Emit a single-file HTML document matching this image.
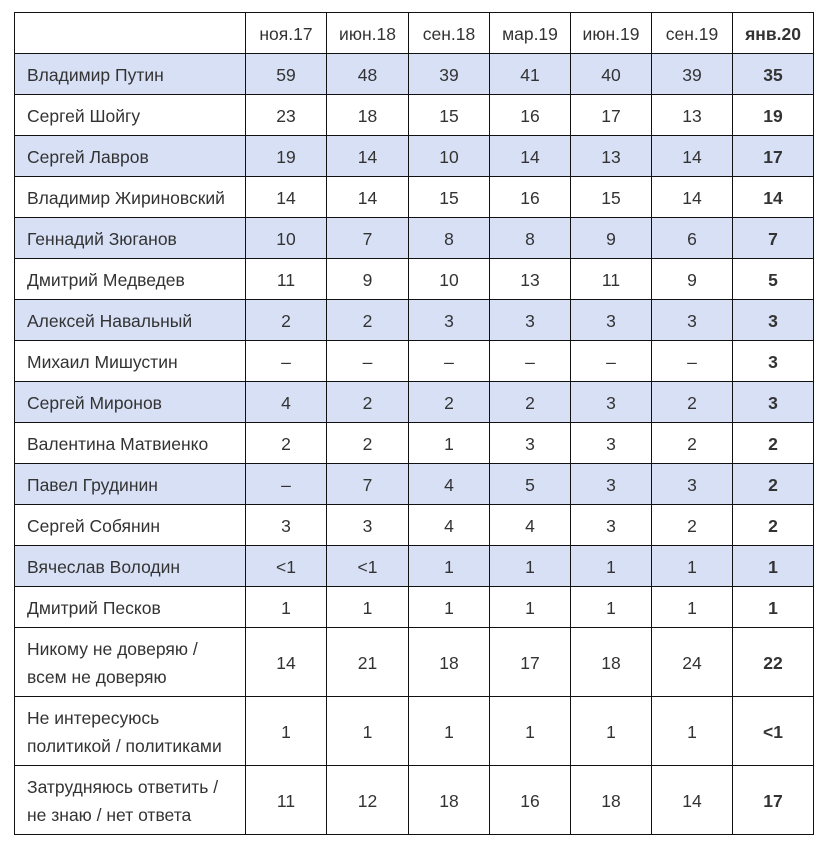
<!DOCTYPE html>
<html><head><meta charset="utf-8"><style>
body{margin:0;background:#fff;}
table{position:absolute;left:14px;top:12px;border-collapse:collapse;font-family:"Liberation Sans",sans-serif;font-size:17.5px;color:#333;table-layout:fixed;width:799px;}
td{border:1px solid #111;height:39px;padding:0;padding-top:1px;text-align:center;line-height:28px;}
td:first-child{text-align:left;padding-left:12px;}
tr.t td{height:67px;}
tr.b td{background:#d8e0f6;}
td:last-child{font-weight:bold;}
</style></head><body>
<table>
<colgroup><col style="width:231px"><col style="width:81px"><col style="width:82px"><col style="width:81px"><col style="width:81px"><col style="width:81px"><col style="width:81px"><col style="width:81px"></colgroup>
<tr class="h"><td></td><td>ноя.17</td><td>июн.18</td><td>сен.18</td><td>мар.19</td><td>июн.19</td><td>сен.19</td><td>янв.20</td></tr>
<tr class="b"><td>Владимир Путин</td><td>59</td><td>48</td><td>39</td><td>41</td><td>40</td><td>39</td><td>35</td></tr>
<tr><td>Сергей Шойгу</td><td>23</td><td>18</td><td>15</td><td>16</td><td>17</td><td>13</td><td>19</td></tr>
<tr class="b"><td>Сергей Лавров</td><td>19</td><td>14</td><td>10</td><td>14</td><td>13</td><td>14</td><td>17</td></tr>
<tr><td>Владимир Жириновский</td><td>14</td><td>14</td><td>15</td><td>16</td><td>15</td><td>14</td><td>14</td></tr>
<tr class="b"><td>Геннадий Зюганов</td><td>10</td><td>7</td><td>8</td><td>8</td><td>9</td><td>6</td><td>7</td></tr>
<tr><td>Дмитрий Медведев</td><td>11</td><td>9</td><td>10</td><td>13</td><td>11</td><td>9</td><td>5</td></tr>
<tr class="b"><td>Алексей Навальный</td><td>2</td><td>2</td><td>3</td><td>3</td><td>3</td><td>3</td><td>3</td></tr>
<tr><td>Михаил Мишустин</td><td>–</td><td>–</td><td>–</td><td>–</td><td>–</td><td>–</td><td>3</td></tr>
<tr class="b"><td>Сергей Миронов</td><td>4</td><td>2</td><td>2</td><td>2</td><td>3</td><td>2</td><td>3</td></tr>
<tr><td>Валентина Матвиенко</td><td>2</td><td>2</td><td>1</td><td>3</td><td>3</td><td>2</td><td>2</td></tr>
<tr class="b"><td>Павел Грудинин</td><td>–</td><td>7</td><td>4</td><td>5</td><td>3</td><td>3</td><td>2</td></tr>
<tr><td>Сергей Собянин</td><td>3</td><td>3</td><td>4</td><td>4</td><td>3</td><td>2</td><td>2</td></tr>
<tr class="b"><td>Вячеслав Володин</td><td>&lt;1</td><td>&lt;1</td><td>1</td><td>1</td><td>1</td><td>1</td><td>1</td></tr>
<tr><td>Дмитрий Песков</td><td>1</td><td>1</td><td>1</td><td>1</td><td>1</td><td>1</td><td>1</td></tr>
<tr class="t"><td>Никому не доверяю /<br>всем не доверяю</td><td>14</td><td>21</td><td>18</td><td>17</td><td>18</td><td>24</td><td>22</td></tr>
<tr class="t"><td>Не интересуюсь<br>политикой / политиками</td><td>1</td><td>1</td><td>1</td><td>1</td><td>1</td><td>1</td><td>&lt;1</td></tr>
<tr class="t"><td>Затрудняюсь ответить /<br>не знаю / нет ответа</td><td>11</td><td>12</td><td>18</td><td>16</td><td>18</td><td>14</td><td>17</td></tr>
</table>
</body></html>
